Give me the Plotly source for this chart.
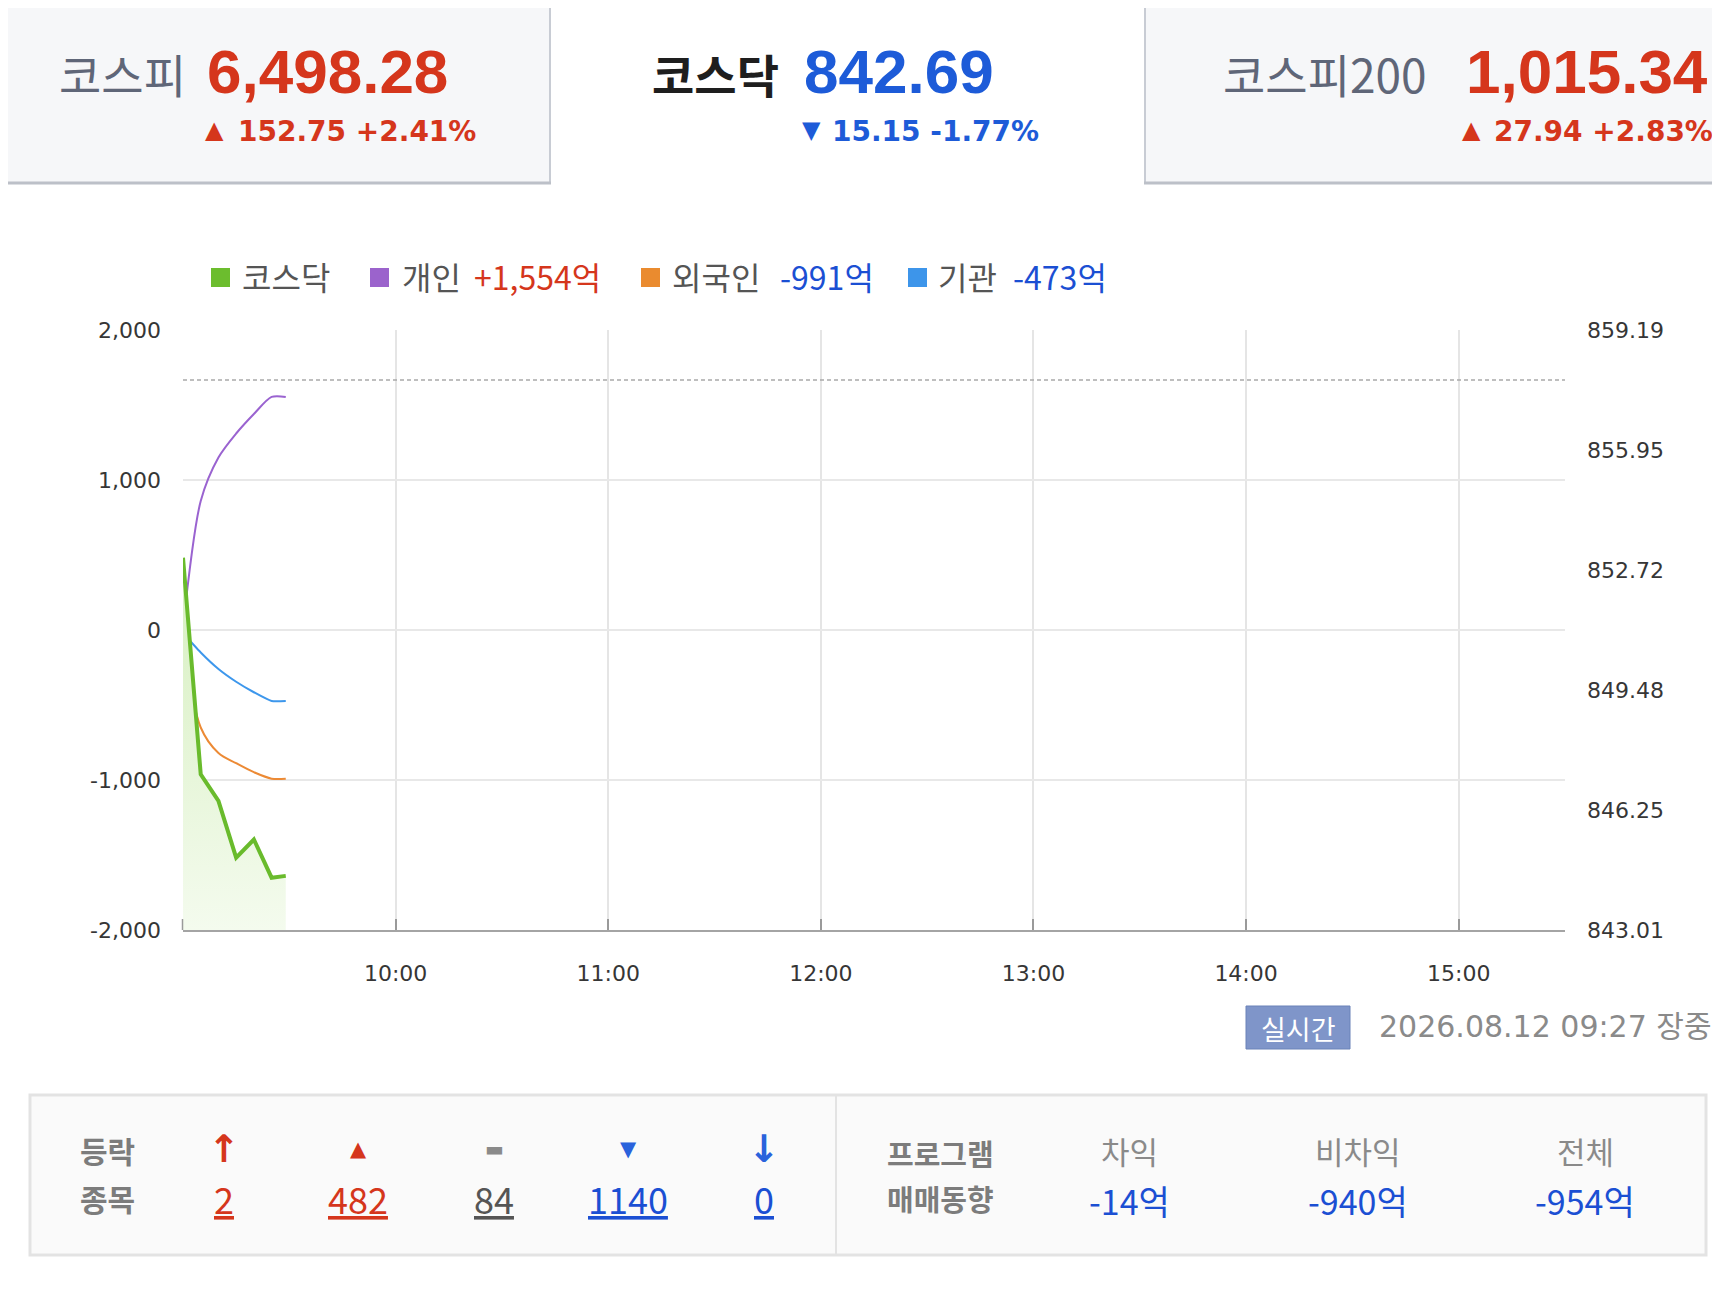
import plotly.graph_objects as go

# 코스닥 지수 + 투자자별 순매수 (장중 5분 단위)
times = ["2026-08-12 09:00", "2026-08-12 09:05", "2026-08-12 09:10", "2026-08-12 09:15",
         "2026-08-12 09:20", "2026-08-12 09:25", "2026-08-12 09:29"]
kosdaq = [853.05, 847.21, 846.49, 844.96, 845.45, 844.42, 844.47]
individual = [20, 860, 1150, 1310, 1440, 1554, 1554]
foreign = [-60, -650, -820, -888, -948, -991, -991]
institution = [-20, -150, -260, -345, -415, -473, -473]

left_ticks = [-2000, -1000, 0, 1000, 2000]
right_ticks = [843.01, 846.25, 849.48, 852.72, 855.95, 859.19]
hour_ticks = ["10:00", "11:00", "12:00", "13:00", "14:00", "15:00"]

# 상단 지수 박스
index_names = ["코스피", "코스닥", "코스피200"]
index_values = ["6,498.28", "842.69", "1,015.34"]
index_changes = ["152.75 +2.41%", "15.15 -1.77%", "27.94 +2.83%"]
index_up = [True, False, True]

kosdaq_now = 842.69
kosdaq_chg = 15.15
prev_close = round(kosdaq_now + kosdaq_chg, 2)

net_buy = {"개인": "+1,554억", "외국인": "-991억", "기관": "-473억"}

# 등락종목 / 프로그램 매매동향
updown_counts = ["2", "482", "84", "1140", "0"]
program_labels = ["차익", "비차익", "전체"]
program_values = ["-14억", "-940억", "-954억"]
stamp = "2026.08.12 09:27 장중"

RED = "#d5361c"
BLUE = "#1b4fd3"
KR = "Noto Sans CJK KR"

# 페이지 좌표(px) -> paper 좌표
OFF = 8
W, H = 1704, 1290
ML, MR, MT, MB = 175, 147, 322, 368
PW, PH = W - ML - MR, H - MT - MB


def X(x):
    return (x - OFF - ML) / PW


def Y(y):
    return 1 - (y - OFF - MT) / PH


fig = go.Figure()

# 코스닥 영역 채우기
fig.add_trace(go.Scatter(
    x=times, y=kosdaq, yaxis="y2", mode="lines", line=dict(width=0),
    fill="tozeroy",
    fillgradient=dict(type="vertical", start=843.01, stop=853.05,
                      colorscale=[[0, "#f4fbee"], [1, "#d6efbf"]]),
    hoverinfo="skip"))

fig.add_trace(go.Scatter(x=times, y=individual, mode="lines", name="개인",
                         line=dict(color="#9a63d0", width=2, shape="spline", smoothing=0.8)))
fig.add_trace(go.Scatter(x=times, y=foreign, mode="lines", name="외국인",
                         line=dict(color="#ec8a35", width=2, shape="spline", smoothing=0.9)))
fig.add_trace(go.Scatter(x=times, y=institution, mode="lines", name="기관",
                         line=dict(color="#3d97ec", width=2, shape="spline", smoothing=0.6)))
fig.add_trace(go.Scatter(x=times, y=kosdaq, yaxis="y2", mode="lines", name="코스닥",
                         line=dict(color="#69bb2c", width=4)))

tick_font = dict(family="DejaVu Sans", size=22, color="#363636")

fig.update_layout(
    width=W, height=H,
    margin=dict(l=ML, r=MR, t=MT, b=MB),
    paper_bgcolor="white", plot_bgcolor="white",
    showlegend=False,
    xaxis=dict(
        type="date",
        range=["2026-08-12 09:00", "2026-08-12 15:30"],
        tickvals=["2026-08-12 " + t for t in hour_ticks],
        ticktext=hour_ticks,
        showgrid=True, gridcolor="#e5e5e5", gridwidth=1.5,
        ticks="inside", ticklen=11, tickwidth=1.5, tickcolor="#9a9a9a",
        showline=True, linecolor="#a4a4a4", linewidth=2,
        tickfont=tick_font, ticklabelstandoff=23,
        zeroline=False,
    ),
    yaxis=dict(
        range=[-2000, 2000],
        tickvals=left_ticks,
        ticktext=[f"{v:,}" for v in left_ticks],
        showgrid=True, gridcolor="#e8e8e8", gridwidth=1.5,
        zeroline=False, showline=False, ticks="",
        tickfont=tick_font, ticklabelstandoff=21,
    ),
    yaxis2=dict(
        range=[right_ticks[0], right_ticks[-1]],
        overlaying="y", side="right",
        tickvals=right_ticks,
        ticktext=[f"{v:.2f}" for v in right_ticks],
        showgrid=False, zeroline=False, showline=False, ticks="",
        tickfont=tick_font, ticklabelstandoff=21,
    ),
)

shapes = []
annos = []


def rect(x0, y0, x1, y1, fill, line=None, lw=0):
    shapes.append(dict(type="rect", xref="paper", yref="paper",
                       x0=X(x0), x1=X(x1), y0=Y(y0), y1=Y(y1),
                       fillcolor=fill, line=dict(color=line or fill, width=lw),
                       layer="below"))


def hline(x0, x1, y, color, lw):
    shapes.append(dict(type="line", xref="paper", yref="paper",
                       x0=X(x0), x1=X(x1), y0=Y(y), y1=Y(y),
                       line=dict(color=color, width=lw)))


def vline(x, y0, y1, color, lw):
    shapes.append(dict(type="line", xref="paper", yref="paper",
                       x0=X(x), x1=X(x), y0=Y(y0), y1=Y(y1),
                       line=dict(color=color, width=lw)))


def text(x, y, s, size, color, anchor="left", family=KR, bold=False):
    annos.append(dict(xref="paper", yref="paper", x=X(x), y=Y(y),
                      xanchor=anchor, yanchor="middle", showarrow=False,
                      text=s, font=dict(family=family, size=size, color=color,
                                        weight="bold" if bold else "normal")))


# 상단 탭 박스
rect(0, 0, 551, 184, "#f6f7f9")
rect(1144, 0, 1720, 184, "#f6f7f9")
hline(0, 1720, 1.5, "#c3c7cf", 3)
vline(550, 0, 184, "#c8ccd4", 2)
vline(1145, 0, 184, "#c8ccd4", 2)
hline(0, 551, 183, "#bcc0c8", 3)
hline(1144, 1720, 183, "#bcc0c8", 3)

name_x = [57, 650, 1221]
value_x = [205, 802, 1464]
tri_x = [214, 811, 1471]
chg_x = [236, 830, 1492]
name_col = ["#5f6678", "#1e1e1e", "#5f6678"]
for i in range(3):
    col = RED if index_up[i] else "#1d5bd8"
    text(name_x[i], 73, index_names[i], 46, name_col[i], bold=(i == 1))
    text(value_x[i], 71, index_values[i], 62, col, family="Liberation Sans", bold=True)
    text(tri_x[i], 130, "▲" if index_up[i] else "▼", 24, col, anchor="center", family="DejaVu Sans")
    text(chg_x[i], 131, index_changes[i], 28, col, family="DejaVu Sans", bold=True)

# 범례 (순매수 금액 포함)
legend_items = [("코스닥", None, "#6cbd2e", 211, 240, None),
                ("개인", net_buy["개인"], "#9b63cc", 370, 400, 472),
                ("외국인", net_buy["외국인"], "#ea8b2f", 641, 670, 778),
                ("기관", net_buy["기관"], "#3d95ea", 908, 936, 1011)]
for label, amt, col, sx, tx, ax in legend_items:
    rect(sx, 268, sx + 19, 287, col)
    text(tx, 276, label, 32, "#555555")
    if amt:
        text(ax, 276, amt, 32, RED if amt.startswith("+") else BLUE)

# 전일 종가 점선
shapes.append(dict(type="line", xref="paper", yref="y2", x0=0, x1=1,
                   y0=prev_close, y1=prev_close,
                   line=dict(color="#a9a9a9", width=1.5, dash="4px,3px")))
# 09:00 눈금
vline(182.5, 919, 930, "#9a9a9a", 1.5)

# 실시간 배지와 시각
rect(1246, 1006, 1350, 1049, "#7f95c9", "#6b82b8", 1)
text(1298, 1028, "실시간", 27, "white", anchor="center")
text(1377, 1026, stamp, 30, "#8a8a8a", family="DejaVu Sans, Noto Sans CJK KR")

# 하단 등락 / 프로그램 표
rect(30, 1095, 1706, 1255, "#fafafa", "#e3e3e3", 3)
vline(836, 1095, 1255, "#e3e3e3", 2)

text(107, 1150, "등락", 30, "#7c7c7c", anchor="center", bold=True)
text(107, 1198, "종목", 30, "#7c7c7c", anchor="center", bold=True)
col_x = [224, 358, 494, 628, 764]
signs = ["↑", "▲", "▬", "▼", "↓"]
sign_size = [38, 21, 20, 21, 38]
sign_col = [RED, RED, "#8a8a8a", "#2a62dc", "#2a62dc"]
num_col = [RED, RED, "#555555", BLUE, BLUE]
for i in range(5):
    text(col_x[i], 1149, signs[i], sign_size[i], sign_col[i], anchor="center",
         family="DejaVu Sans", bold=True)
    text(col_x[i], 1198, "<u>" + updown_counts[i] + "</u>", 36, num_col[i], anchor="center")

text(940, 1153, "프로그램", 29, "#7c7c7c", anchor="center", bold=True)
text(940, 1198, "매매동향", 29, "#7c7c7c", anchor="center", bold=True)
prog_x = [1129, 1358, 1585]
for i in range(3):
    text(prog_x[i], 1150, program_labels[i], 31, "#8a8a8a", anchor="center")
    text(prog_x[i], 1200, program_values[i], 34, BLUE, anchor="center")

fig.update_layout(shapes=shapes, annotations=annos)

fig.write_html("out.html")
